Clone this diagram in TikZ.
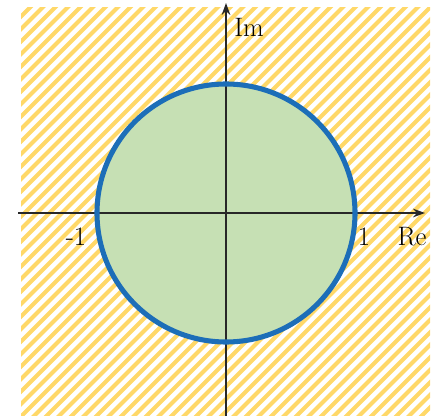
\documentclass[tikz,border=0pt]{standalone}
\usepackage{tikz}
\usetikzlibrary{arrows.meta}

\definecolor{hatchyellow}{RGB}{255,216,104}
\definecolor{diskgreen}{RGB}{198,224,180}
\definecolor{rimblue}{RGB}{28,110,184}
\definecolor{axisgray}{RGB}{40,40,40}

\begin{document}
\begin{tikzpicture}[
    x=0.75pt, y=-0.75pt,
    hatch/.style={hatchyellow, line width=3pt},
    axis/.style={-{Stealth[length=9pt,width=6.5pt]}, axisgray, line width=1.1pt},
    lbl/.style={font=\fontsize{20}{24}\selectfont, inner sep=0pt}
]
    \useasboundingbox (0,0) rectangle (435,416);

    % hatched outer region
    \begin{scope}
        \clip (21,8) rectangle (430,416);
        \foreach \c in {0,12.5,...,870}
            \draw[hatch] (\c-440,440) -- (\c+10,-10);
    \end{scope}

    % unit disk
    \coordinate (O) at (226,213);
    \fill[diskgreen] (O) circle (129);

    % axes
    \coordinate (xs) at (18,213);
    \coordinate (xe) at (425,213);
    \coordinate (ys) at (226,416);
    \coordinate (ye) at (226,3);
    \draw[axis] (xs) -- (xe);
    \draw[axis] (ys) -- (ye);

    \draw[rimblue, line width=3.8pt] (O) circle (129);

    \node[lbl] (im) at (249,27) {Im};
    \node[lbl] (re) at (412,237) {Re};
    \node[lbl] (one) at (364,237) {1};
    \node[lbl] (mone) at (76,237) {-1};
\end{tikzpicture}
\end{document}
